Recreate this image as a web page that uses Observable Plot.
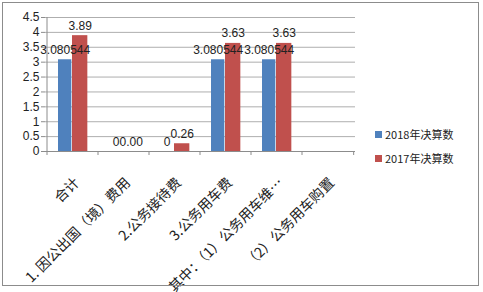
<!DOCTYPE html>
<html><head><meta charset="utf-8">
<script src="https://cdn.jsdelivr.net/npm/d3@7"></script>
<script src="https://cdn.jsdelivr.net/npm/@observablehq/plot@0.6"></script>
<style>
html,body{margin:0;padding:0;background:#fff;}
#wrap{position:relative;width:483px;height:292px;font-family:"Noto Sans CJK SC","Liberation Sans",sans-serif;}
#frame{position:absolute;left:2px;top:2px;width:477px;height:284px;border:1px solid #8c8c8c;box-sizing:border-box;pointer-events:none;}
.leg{position:absolute;left:375px;font-size:11px;color:#222;display:flex;align-items:center;white-space:nowrap;}
.sw{width:7px;height:7px;margin-right:3px;}
</style></head>
<body><div id="wrap"><div id="frame"></div></div>
<script>
const categories = ["合计","1. 因公出国（境）费用","2.公务接待费","3.公务用车费","其中：（1）公务用车维…","（2）公务用车购置"];
const values2018 = [3.080544, 0, 0, 3.080544, 3.080544, null];
const values2017 = [3.89, 0, 0.26, 3.63, 3.63, null];
const labels2018 = ["3.080544","0","0","3.080544","3.080544",""];
const labels2017 = ["3.89","0.00","0.26","3.63","3.63",""];
const seriesNames = ["2018年决算数","2017年决算数"];
const colors = ["#4F81BD","#C0504D"];
const yTicks = [0,0.5,1,1.5,2,2.5,3,3.5,4,4.5];

const rows = categories.map((c,i)=>({c, v18: values2018[i], v17: values2017[i], l18: labels2018[i], l17: labels2017[i]}));
const bw = (483-45-128)/categories.length;
const numFont = '"Liberation Sans",Arial,sans-serif';

const chart = Plot.plot({
  width: 483, height: 292,
  marginLeft: 45, marginRight: 128, marginTop: 17, marginBottom: 141,
  style: {fontFamily: '"Noto Sans CJK SC","Liberation Sans",sans-serif', fontSize: "11px", color: "#222", background: "transparent"},
  x: {domain: categories, padding: 0, label: null},
  y: {domain: [0,4.5], ticks: yTicks, label: null},
  marks: [
    Plot.ruleY(yTicks, {stroke: "#8c8c8c", strokeWidth: 1, strokeOpacity: 0.7}),
    Plot.barY(rows.filter(d=>d.v18!=null), {x: "c", y: "v18", fill: colors[0], insetLeft: 11, insetRight: bw-25}),
    Plot.barY(rows.filter(d=>d.v17!=null), {x: "c", y: "v17", fill: colors[1], insetLeft: 25, insetRight: bw-41}),
    Plot.text(rows.filter(d=>d.v18!=null), {x: "c", y: "v18", text: "l18", dx: -(bw/2-18), dy: -6, lineAnchor: "bottom", fill: "#222", fontSize: 12, fontFamily: numFont}),
    Plot.text(rows.filter(d=>d.v17!=null), {x: "c", y: "v17", text: "l17", dx: 33-bw/2, dy: -6, lineAnchor: "bottom", fill: "#222", fontSize: 12, fontFamily: numFont}),
    Plot.ruleY([0], {stroke: "#8c8c8c"}),
    Plot.axisY({ticks: yTicks, tickSize: 4, tickPadding: 2, stroke: "#8c8c8c", fontSize: 12, fontFamily: numFont, tickFormat: d=>String(d)}),
    Plot.axisX({tickSize: 0, tickRotate: -45, tickPadding: 21, dx: 4, dy: 8, fontSize: 14})
  ]
});
const wrap = document.getElementById("wrap");
wrap.insertBefore(chart, wrap.firstChild);
const svg = d3.select(chart);
const xs = chart.scale("x");
const ys = chart.scale("y");
const bounds = categories.map(c=>xs.apply(c)).concat([xs.apply(categories[categories.length-1])+bw]);
const g = svg.append("g").attr("stroke","#8c8c8c");
g.append("line").attr("x1", bounds[0]).attr("x2", bounds[0]).attr("y1", ys.apply(0)).attr("y2", ys.apply(4.5));
g.selectAll("line.bt").data(bounds).join("line").attr("class","bt")
  .attr("x1", d=>d).attr("x2", d=>d).attr("y1", ys.apply(0)).attr("y2", ys.apply(0)+4);
seriesNames.forEach((n,i)=>{
  const el = document.createElement("div");
  el.className = "leg";
  el.style.top = (126 + i*24) + "px";
  el.innerHTML = `<span class="sw" style="background:${colors[i]}"></span>${n}`;
  wrap.appendChild(el);
});
</script></body></html>
